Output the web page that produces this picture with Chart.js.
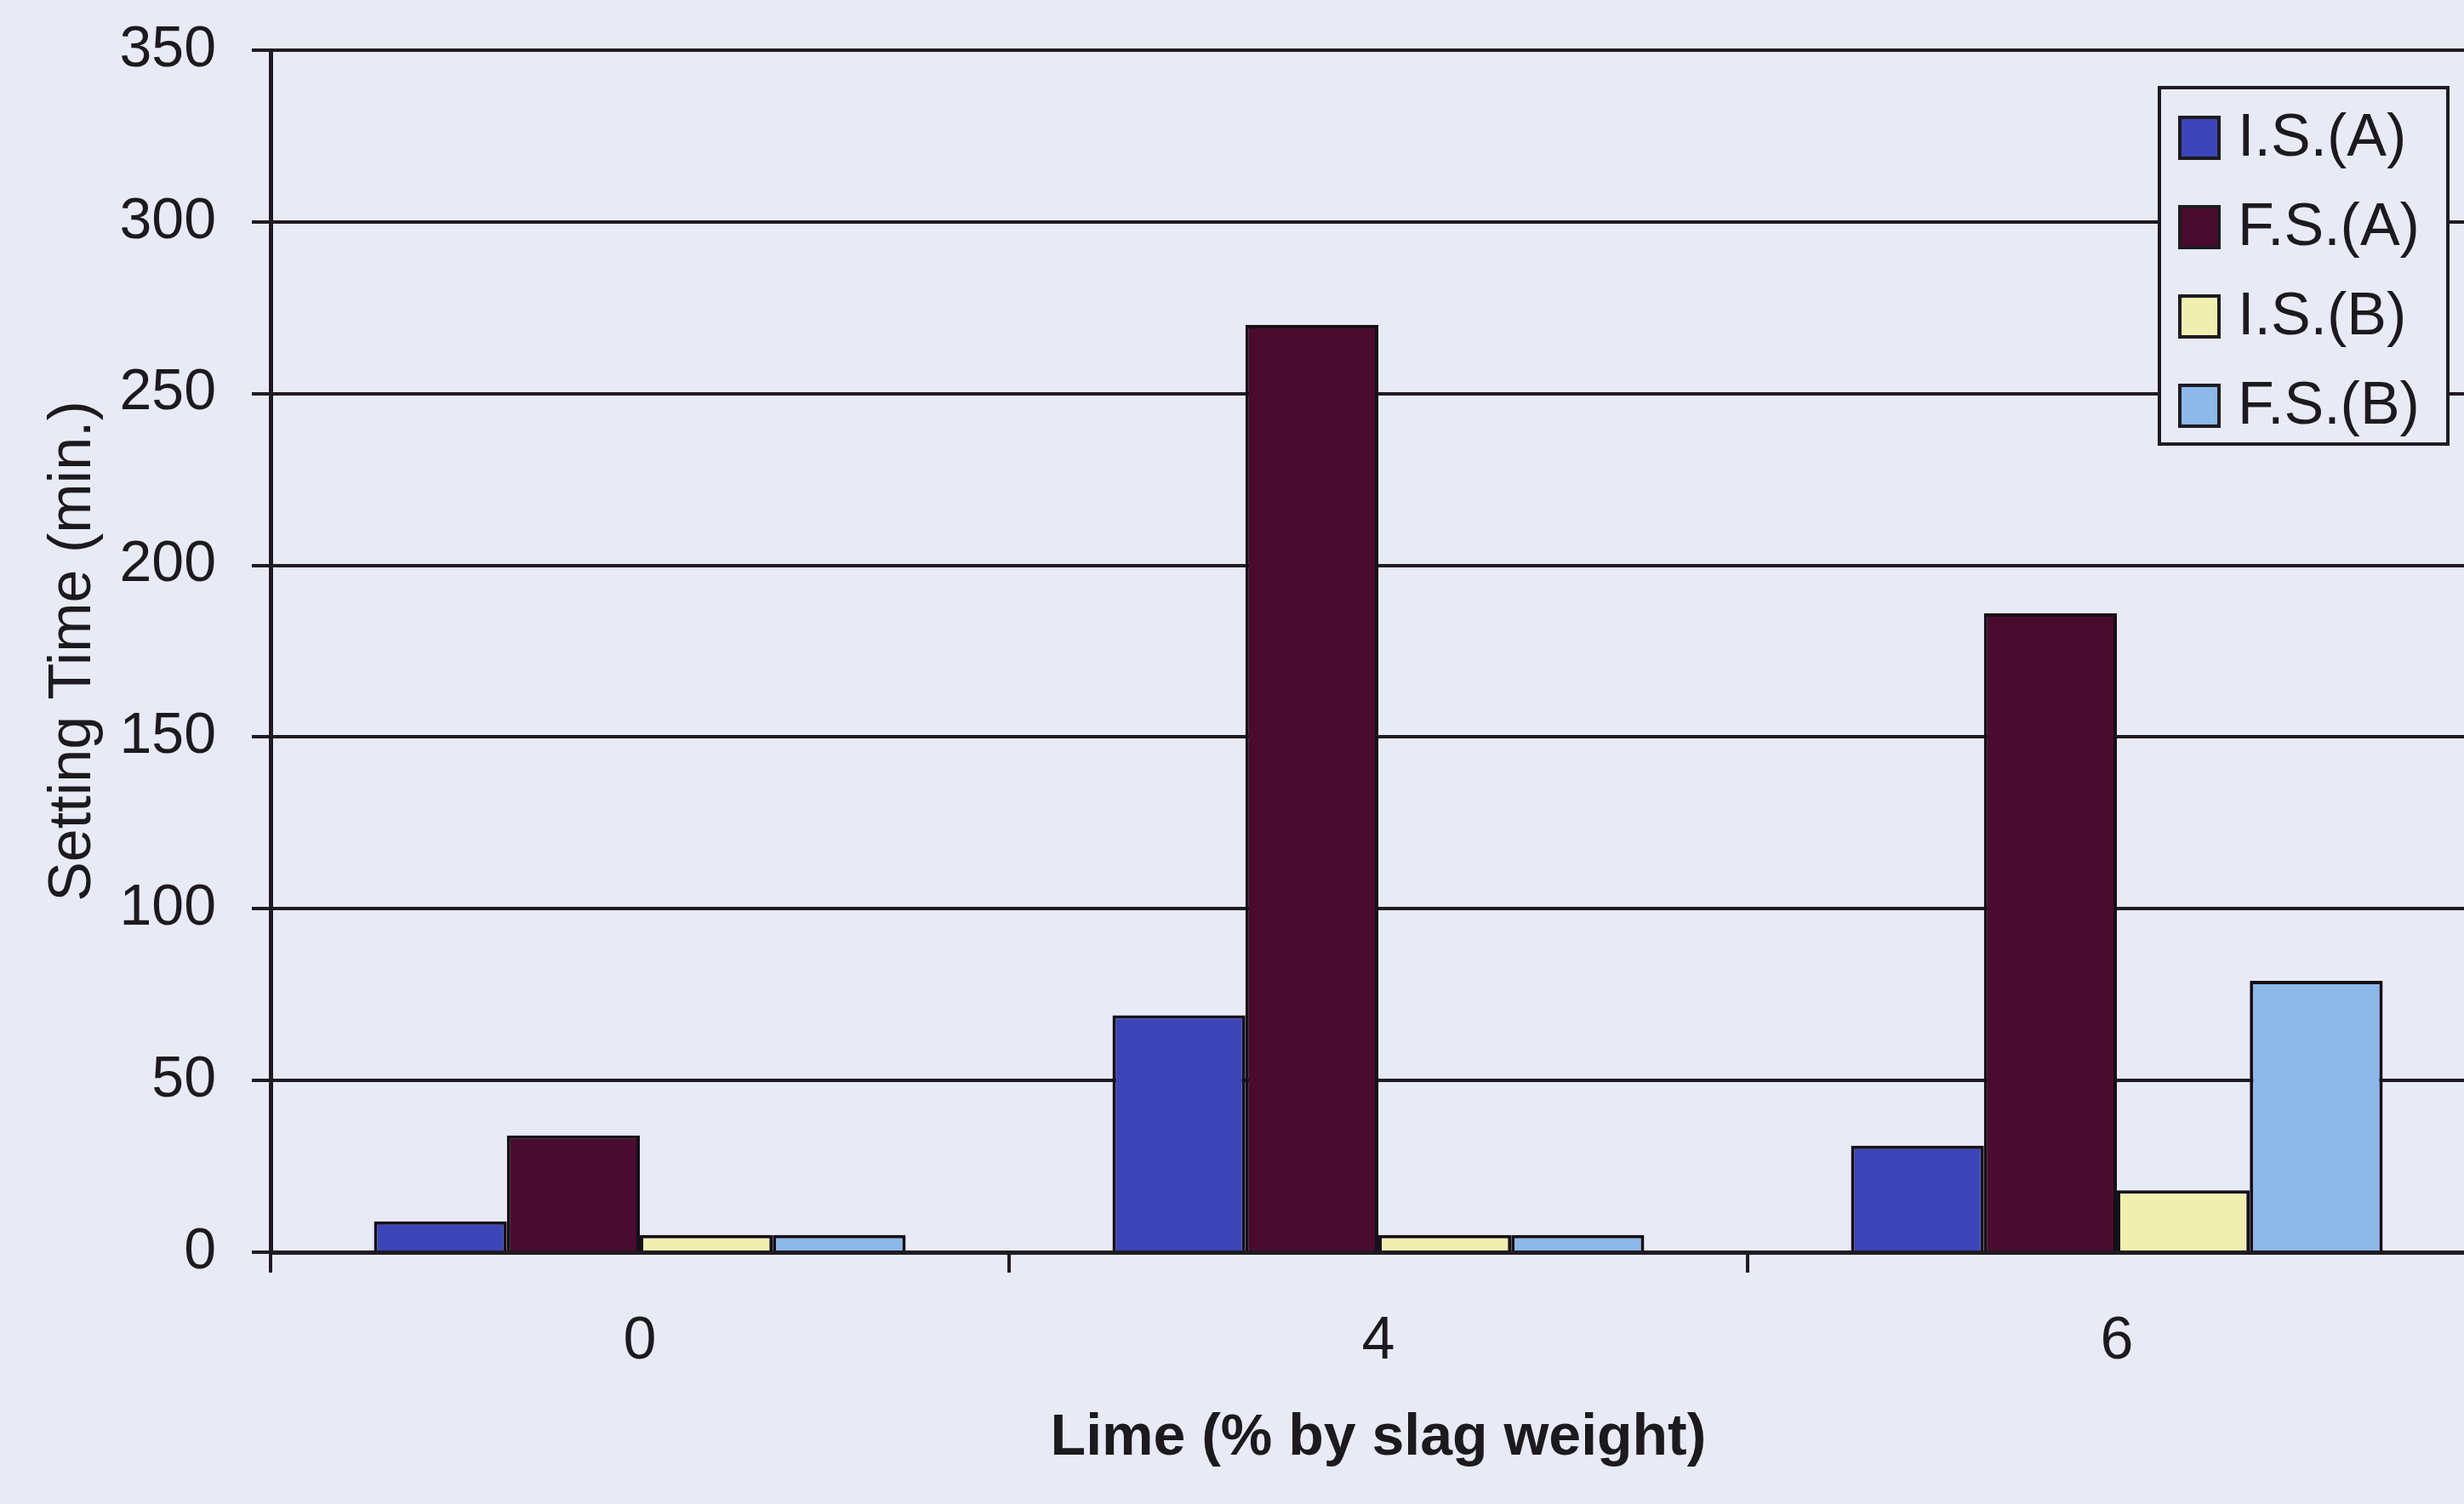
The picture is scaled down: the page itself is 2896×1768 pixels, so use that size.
<!DOCTYPE html>
<html>
<head>
<meta charset="utf-8">
<script src="https://cdn.jsdelivr.net/npm/chart.js@4.4.1/dist/chart.umd.min.js"></script>
<style>
    html, body { margin: 0; padding: 0; overflow: hidden; background: #e8eaf6; }
    #wrap { position: relative; width: 2930px; height: 1768px; }
</style>
</head>
<body>
<div id="wrap"><canvas id="setting-chart"></canvas></div>
<script>
// ── Setting time vs lime content ──

const LIME_LEVELS = ["0", "4", "6"];
const SERIES_LABELS = ["I.S.(A)", "F.S.(A)", "I.S.(B)", "F.S.(B)"];
const IS_A = [9, 69, 31];
const FS_A = [34, 270, 186];
const IS_B = [5, 5, 18];
const FS_B = [5, 5, 79];
const Y_MIN = 0;
const Y_MAX = 350;
const Y_STEP = 50;

const SERIES_COLORS = ["#3c46b8", "#4a0c2e", "#f1efb0", "#8cb8ea"];
const INK = "#1f1b22";
const FONT = "'Liberation Sans', Arial, sans-serif";

// legend drawn inside the plot, with a framed box like the original
const boxLegend = {
    id: "boxLegend",
    afterDraw(chart) {
        const ctx = chart.ctx;
        const x0 = 2538, y0 = 103, w = 339, h = 419;
        ctx.save();
        ctx.fillStyle = "#e8eaf6";
        ctx.fillRect(x0, y0, w, h);
        ctx.strokeStyle = INK;
        ctx.lineWidth = 4;
        ctx.strokeRect(x0, y0, w, h);
        ctx.font = "70px " + FONT;
        ctx.textBaseline = "middle";
        chart.data.datasets.forEach((ds, i) => {
            const cy = 162 + i * 105;
            ctx.fillStyle = ds.backgroundColor;
            ctx.fillRect(2562, cy - 24, 46, 48);
            ctx.strokeStyle = INK;
            ctx.lineWidth = 4;
            ctx.strokeRect(2562, cy - 24, 46, 48);
            ctx.fillStyle = "#1c1a1e";
            ctx.fillText(ds.label, 2630, cy + 2);
        });
        ctx.restore();
    }
};

const seriesValues = [IS_A, FS_A, IS_B, FS_B];

new Chart(document.getElementById("setting-chart"), {
    type: "bar",
    data: {
        labels: LIME_LEVELS,
        datasets: SERIES_LABELS.map((lab, i) => ({
            label: lab,
            data: seriesValues[i],
            backgroundColor: SERIES_COLORS[i],
            borderColor: "#161018",
            borderWidth: 4,
            barPercentage: 1.0,
            categoryPercentage: 0.72,
        })),
    },
    options: {
        responsive: true,
        maintainAspectRatio: false,
        animation: false,
        layout: { padding: { top: 59, right: 8, left: 0, bottom: 0 } },
        plugins: {
            legend: { display: false },
            tooltip: { enabled: false },
        },
        scales: {
            x: {
                grid: {
                    display: true, drawOnChartArea: false, drawTicks: true,
                    tickLength: 24, color: INK, lineWidth: 4, offset: true,
                },
                border: { display: true, color: INK, width: 5 },
                ticks: { color: "#1c1a1e", font: { family: FONT, size: 70 }, padding: 40 },
                title: {
                    display: true, text: "Lime (% by slag weight)", color: "#1c1a1e",
                    font: { family: FONT, size: 68, weight: "bold" },
                    padding: { top: 0, bottom: 36 },
                },
                afterFit(scale) { scale.height = 296; },
            },
            y: {
                min: Y_MIN, max: Y_MAX,
                grid: { color: INK, lineWidth: 4, tickLength: 22 },
                border: { display: true, color: INK, width: 5 },
                ticks: {
                    stepSize: Y_STEP, color: "#1c1a1e", padding: 42,
                    font: { family: FONT, size: 68 },
                },
                title: {
                    display: true, text: "Setting Time (min.)", color: "#1c1a1e",
                    font: { family: FONT, size: 70 },
                    padding: { top: 45, bottom: 0 },
                },
                afterFit(scale) {
                    scale.width = 318;
                    scale.paddingTop = 0;
                    scale.paddingBottom = 0;
                },
            },
        },
    },
    plugins: [boxLegend],
});
</script>
</body>
</html>
